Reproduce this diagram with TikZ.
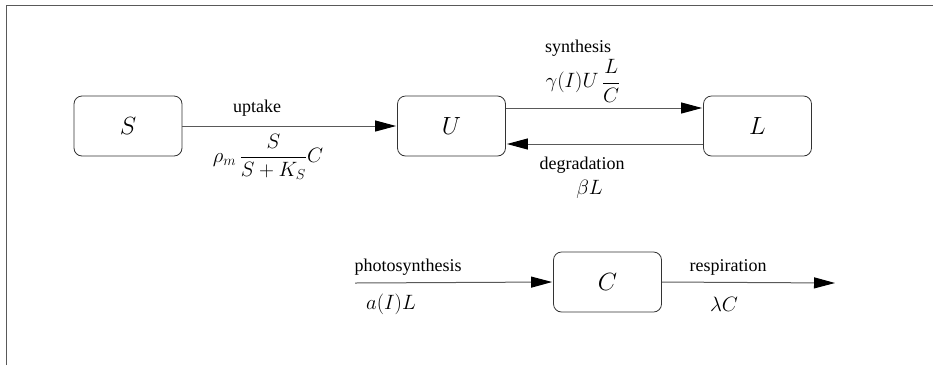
\documentclass[tikz,border=0pt]{standalone}
\usepackage{fontspec}
\setmainfont{Liberation Serif}
\usetikzlibrary{arrows.meta}
\begin{document}
\begin{tikzpicture}[x=1pt,y=-1pt,
  box/.style={draw=black!80, line width=0.8pt, rounded corners=8pt, minimum width=108pt, minimum height=60pt, inner sep=0pt, font=\fontsize{26}{30}\selectfont},
  flow/.style={draw=black!65, line width=1pt, -{Triangle[length=21pt,width=11pt,color=black]}, shorten >=1pt},
  lbl/.style={font=\fontsize{18}{22}\selectfont, inner sep=0pt},
  mth/.style={font=\fontsize{21}{25}\selectfont, inner sep=0pt},
  frm/.style={draw=black!65, line width=1.5pt}]
\useasboundingbox (0,0) rectangle (933,365);
\draw[frm] (6.5,365) -- (6.5,5.5) -- (933,5.5);
\node[box] (S) at (128,126) {$S$};
\node[box] (U) at (451.5,126) {$U$};
\node[box] (L) at (757.5,126) {$L$};
\node[box] (C) at (607.5,282) {$C$};
\coordinate (pin) at (355,283);
\coordinate (rout) at (836,283);
\draw[flow] (S.east) -- (U.west);
\draw[flow] ([yshift=18pt]U.east) -- ([yshift=18pt]L.west);
\draw[flow] ([yshift=-18pt]L.west) -- ([yshift=-18pt]U.east);
\draw[flow] (pin) -- (C.west);
\draw[flow] (C.east) -- (rout);
\node[lbl] (tup) at (257,108.5) {uptake};
\node[mth] (fup) at (268,157) {$\displaystyle \rho_m\,\frac{S}{S+K_S}C$};
\node[lbl] (tsy) at (578,48.5) {synthesis};
\node[mth] (fsy) at (583,81) {$\displaystyle \gamma(I)U\,\frac{L}{C}$};
\node[lbl] (tde) at (582,165.5) {degradation};
\node[mth] (fde) at (589.5,189) {$\beta L$};
\node[lbl] (tph) at (408,267.5) {photosynthesis};
\node[mth] (fph) at (391,304) {$a(I)L$};
\node[lbl] (tre) at (728,267.5) {respiration};
\node[mth] (fre) at (724,304) {$\lambda C$};
\end{tikzpicture}
\end{document}
